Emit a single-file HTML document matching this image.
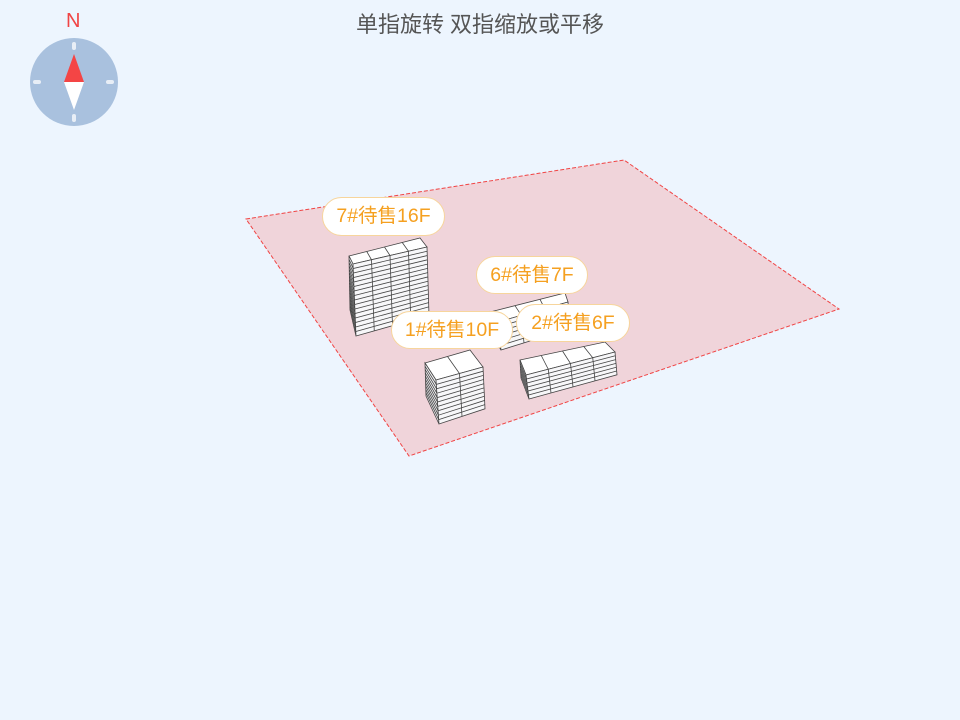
<!DOCTYPE html>
<html><head><meta charset="utf-8"><style>
html,body{margin:0;padding:0;background:#edf5fe;}
body{width:960px;height:720px;overflow:hidden;position:relative;font-family:"Liberation Sans","Noto Sans CJK SC",sans-serif;}
.t{position:absolute;top:7px;left:0;width:960px;text-align:center;font-size:22px;color:#555;}
.n{position:absolute;left:66px;top:10px;font-size:20px;color:#f04444;}
.lab{position:absolute;background:#fff;border:1px solid #f7d59c;border-radius:20px;color:#f5a020;font-size:19.5px;text-align:center;box-sizing:border-box;}
</style></head><body>
<div class="t">单指旋转 双指缩放或平移</div>
<div class="n">N</div>
<svg width="960" height="720" style="position:absolute;left:0;top:0">
<circle cx="74" cy="82" r="44" fill="#a9c1de"/>
<rect x="72" y="42" width="4" height="8" rx="2" fill="#e8eef6"/>
<rect x="72" y="114" width="4" height="8" rx="2" fill="#e8eef6"/>
<rect x="33" y="80" width="8" height="4" rx="2" fill="#e8eef6"/>
<rect x="106" y="80" width="8" height="4" rx="2" fill="#e8eef6"/>
<polygon points="74,54 84,82 64,82" fill="#f44545"/>
<polygon points="64,82 84,82 74,110" fill="#fff"/>
<polygon points="246,219 624,160 839,309 409,456" fill="#f0d4da" stroke="#f04444" stroke-width="1" stroke-dasharray="4,2"/>
<g id="b" stroke="#444" stroke-width="0.8" fill="#fff"></g>
</svg>
<div class="lab" style="left:322px;top:197px;width:123px;height:39px;line-height:37px">7#待售16F</div>
<div class="lab" style="left:476px;top:256px;width:112px;height:38px;line-height:36px">6#待售7F</div>
<div class="lab" style="left:391px;top:311px;width:122px;height:38px;line-height:36px">1#待售10F</div>
<div class="lab" style="left:516px;top:304px;width:114px;height:38px;line-height:36px">2#待售6F</div>
<script>
var g=document.getElementById('b'),h='';
function L(a,b,t){return[a[0]+(b[0]-a[0])*t,a[1]+(b[1]-a[1])*t];}
function bld(back,tl,tr,rb,height,floors,cols){
 var bl=[tl[0]+3,tl[1]+height],br=[tr[0]+2,tr[1]+height*0.95];
 var lb=[back[0]+1,back[1]+height*0.75];
 h+='<polygon points="'+[back,rb,tr,tl].join(' ')+'"/>';
 h+='<polygon points="'+[back,tl,bl,lb].join(' ')+'" fill="#f4f4f6"/>';
 h+='<polygon points="'+[tl,tr,br,bl].join(' ')+'" fill="#f7f7f9"/>';
 for(var i=1;i<floors;i++){var t=i/floors;var a=L(tl,bl,t),b=L(tr,br,t),c=L(back,lb,t);
  h+='<polyline fill="none" points="'+[c,a,b].join(' ')+'"/>';}
 for(var j=1;j<cols;j++){var t=j/cols;var a=L(tl,tr,t),b=L(bl,br,t),c=L(back,rb,t);
  h+='<polyline fill="none" points="'+[c,a,b].join(' ')+'"/>';}
}
bld([490,312],[498,322],[568,302],[565,293],28,6,3);
bld([349,256],[353,264],[427,247],[420,238],72,16,4);
bld([425,363],[436,380],[483,367],[470,350],44,10,2);
bld([520,360],[526,375],[615,352],[605,342],24,6,4);
g.innerHTML=h;
</script>
</body></html>
